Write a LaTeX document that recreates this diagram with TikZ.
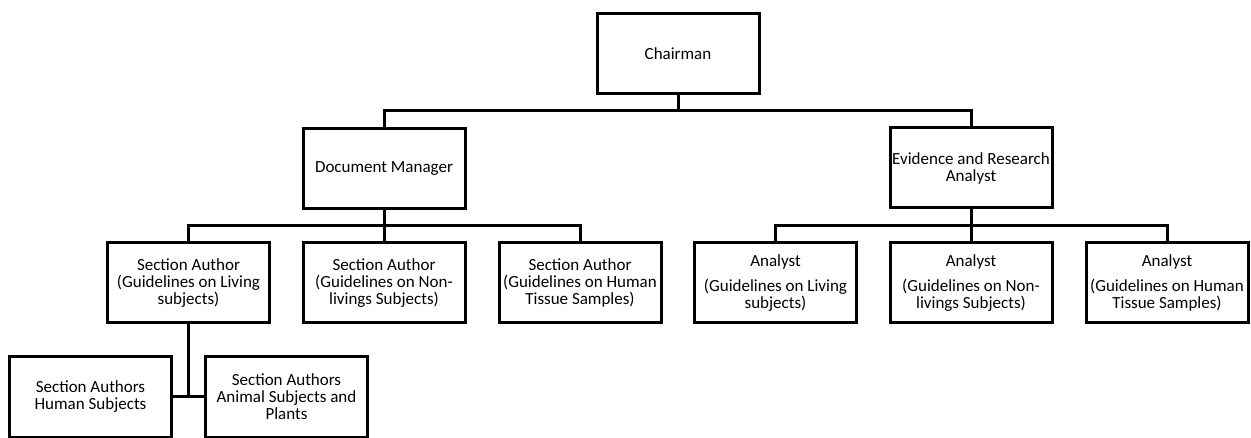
\documentclass[tikz,border=0pt]{standalone}
\usepackage{fontspec}
\setmainfont{Carlito}
\begin{document}
\begin{tikzpicture}[x=1pt,y=-1pt,
  box/.style={draw=black,line width=3pt,minimum width=162pt,minimum height=80pt,inner sep=0pt,align=center,font=\fontsize{17}{17}\selectfont},
  conn/.style={draw=black,line width=3pt}]
\useasboundingbox[fill=white] (0,0) rectangle (1251,438);
\node[box] (chair) at (678,53.5) {Chairman};
\node[box] (dm) at (384,168.5) {Document Manager};
\node[box] (era) at (971,168) {Evidence and Research\\Analyst};
\node[box] (sa1) at (188.5,283) {Section Author\\(Guidelines on Living\\subjects)};
\node[box] (sa2) at (384,283) {Section Author\\(Guidelines on Non-\\livings Subjects)};
\node[box] (sa3) at (580,283) {Section Author\\(Guidelines on Human\\Tissue Samples)};
\node[box] (an1) at (775.5,283) {Analyst\\[8pt](Guidelines on Living\\subjects)};
\node[box] (an2) at (971,283) {Analyst\\[8pt](Guidelines on Non-\\livings Subjects)};
\node[box] (an3) at (1167,283) {Analyst\\[8pt](Guidelines on Human\\Tissue Samples)};
\node[box] (sah) at (90.5,397) {Section Authors\\Human Subjects};
\node[box] (saa) at (286.5,397) {Section Authors\\Animal Subjects and\\Plants};
\coordinate (b0) at (678,111);
\coordinate (b1) at (384,226);
\coordinate (b2) at (971,226);
\coordinate (b3) at (188.5,397);
\draw[conn] (chair.south) -- (b0);
\draw[conn] (b0) -| (dm.north);
\draw[conn] (b0) -| (era.north);
\draw[conn] (dm.south) -- (b1);
\draw[conn] (b1) -| (sa1.north);
\draw[conn] (b1) -- (sa2.north);
\draw[conn] (b1) -| (sa3.north);
\draw[conn] (era.south) -- (b2);
\draw[conn] (b2) -| (an1.north);
\draw[conn] (b2) -- (an2.north);
\draw[conn] (b2) -| (an3.north);
\draw[conn] (sa1.south) -- (b3);
\draw[conn] (sah.east) -- (saa.west);
\end{tikzpicture}
\end{document}
